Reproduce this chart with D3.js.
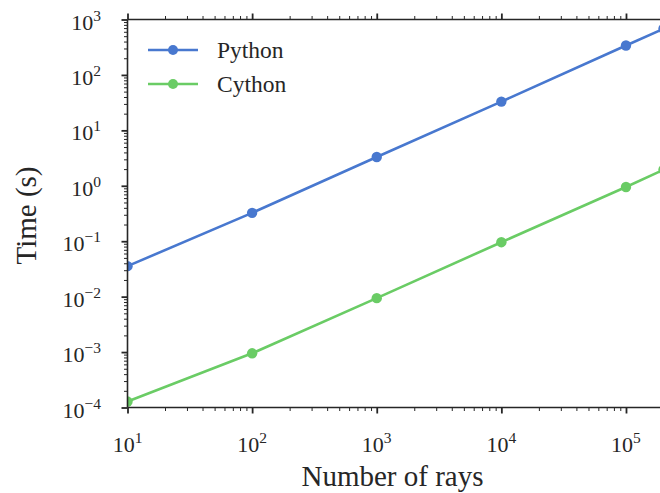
<!DOCTYPE html>
<html><head><meta charset="utf-8">
<script src="https://cdn.jsdelivr.net/npm/d3@7"></script>
<style>
html,body{margin:0;padding:0;background:#fff;}
svg{display:block;font-family:"Liberation Serif","DejaVu Serif",serif;}
</style></head>
<body><svg id="c" width="660" height="493"></svg>
<script>
const rays = [10, 100, 1000, 10000, 100000, 200000];
const pythonTime = [0.0355, 0.325, 3.3, 33, 340, 680];
const cythonTime = [0.000128, 0.00095, 0.0094, 0.096, 0.95, 1.95];
const seriesNames = ["Python", "Cython"];
const seriesColors = ["#4878CF", "#6ACC65"];
const xTickExps = [1, 2, 3, 4, 5];
const yTickExps = [-4, -3, -2, -1, 0, 1, 2, 3];
const xLabel = "Number of rays";
const yLabel = "Time (s)";

const svg = d3.select("#c");
const L = 127.5, R = 663.5, T = 19.5, B = 407.5;
const x = d3.scaleLog().domain([10, 200000]).range([L, R]);
const y = d3.scaleLog().domain([1e-4, 1e3]).range([B, T]);
const ink = "#262626";

function minors(dom){
  const out=[];
  const lo=Math.floor(Math.log10(dom[0])), hi=Math.ceil(Math.log10(dom[1]));
  for(let k=lo;k<=hi;k++) for(let m=2;m<=9;m++){const v=m*Math.pow(10,k); if(v>=dom[0]&&v<=dom[1]) out.push(v);}
  return out;
}

// clip
svg.append("defs").append("clipPath").attr("id","clip").append("rect")
  .attr("x",L).attr("y",T).attr("width",R-L).attr("height",B-T);

const data = [pythonTime, cythonTime];
const line = d3.line().x((d,i)=>x(rays[i])).y(d=>y(d));
const plot = svg.append("g").attr("clip-path","url(#clip)");
data.forEach((s,si)=>{
  plot.append("path").attr("d",line(s)).attr("fill","none")
    .attr("stroke",seriesColors[si]).attr("stroke-width",2.6);
  plot.selectAll(null).data(s).enter().append("circle")
    .attr("cx",(d,i)=>x(rays[i])).attr("cy",d=>y(d)).attr("r",5.2)
    .attr("fill",seriesColors[si]);
});

// axes
function styleAxis(g,w){ g.select(".domain").remove(); g.selectAll("line").attr("stroke",ink).attr("stroke-width",w); g.selectAll("text").remove(); }
const xMajor = xTickExps.map(e=>Math.pow(10,e));
const yMajor = yTickExps.map(e=>Math.pow(10,e));
svg.append("g").attr("transform",`translate(0,${B})`).call(d3.axisBottom(x).tickValues(xMajor).tickSize(6)).call(g=>styleAxis(g,1.8));
svg.append("g").attr("transform",`translate(0,${B})`).call(d3.axisBottom(x).tickValues(minors(x.domain())).tickSize(3.5)).call(g=>styleAxis(g,1));
svg.append("g").attr("transform",`translate(0,${T})`).call(d3.axisTop(x).tickValues(xMajor).tickSize(6)).call(g=>styleAxis(g,1.8));
svg.append("g").attr("transform",`translate(0,${T})`).call(d3.axisTop(x).tickValues(minors(x.domain())).tickSize(3.5)).call(g=>styleAxis(g,1));
svg.append("g").attr("transform",`translate(${L},0)`).call(d3.axisLeft(y).tickValues(yMajor).tickSize(6)).call(g=>styleAxis(g,1.8));
svg.append("g").attr("transform",`translate(${L},0)`).call(d3.axisLeft(y).tickValues(minors(y.domain())).tickSize(3.5)).call(g=>styleAxis(g,1));

// spines
svg.append("line").attr("x1",L).attr("x2",L).attr("y1",T).attr("y2",B).attr("stroke",ink).attr("stroke-width",1.6);
svg.append("line").attr("x1",L).attr("x2",R).attr("y1",B).attr("y2",B).attr("stroke",ink).attr("stroke-width",1.6);
svg.append("line").attr("x1",L).attr("x2",R).attr("y1",T).attr("y2",T).attr("stroke",ink).attr("stroke-width",1.6);
svg.append("line").attr("x1",R).attr("x2",R).attr("y1",T).attr("y2",B).attr("stroke",ink).attr("stroke-width",1.6);

function expLabel(sel, e){
  sel.append("tspan").text("10");
  sel.append("tspan").attr("font-size",15.5).attr("dy",-9).text(String(e).replace("-","\u2212"));
}
xTickExps.forEach(e=>{
  const t = svg.append("text").attr("x",x(Math.pow(10,e))).attr("y",452).attr("text-anchor","middle")
    .attr("font-size",22).attr("fill",ink);
  expLabel(t,e);
});
yTickExps.forEach(e=>{
  const t = svg.append("text").attr("x",101).attr("y",y(Math.pow(10,e))+10).attr("text-anchor","end")
    .attr("font-size",22).attr("fill",ink);
  expLabel(t,e);
});

svg.append("text").attr("x",(L+R)/2-3).attr("y",486).attr("text-anchor","middle")
  .attr("font-size",29).attr("fill",ink).text(xLabel);
svg.append("text").attr("transform",`translate(36,${(T+B)/2+2}) rotate(-90)`).attr("text-anchor","middle")
  .attr("font-size",29).attr("fill",ink).text(yLabel);

// legend
seriesNames.forEach((n,i)=>{
  const ly = 50 + i*34;
  svg.append("line").attr("x1",148).attr("x2",198).attr("y1",ly).attr("y2",ly)
    .attr("stroke",seriesColors[i]).attr("stroke-width",2.6);
  svg.append("circle").attr("cx",173).attr("cy",ly).attr("r",5).attr("fill",seriesColors[i]);
  svg.append("text").attr("x",217).attr("y",ly+8).attr("font-size",23.5).attr("fill",ink).text(n);
});
</script></body></html>
